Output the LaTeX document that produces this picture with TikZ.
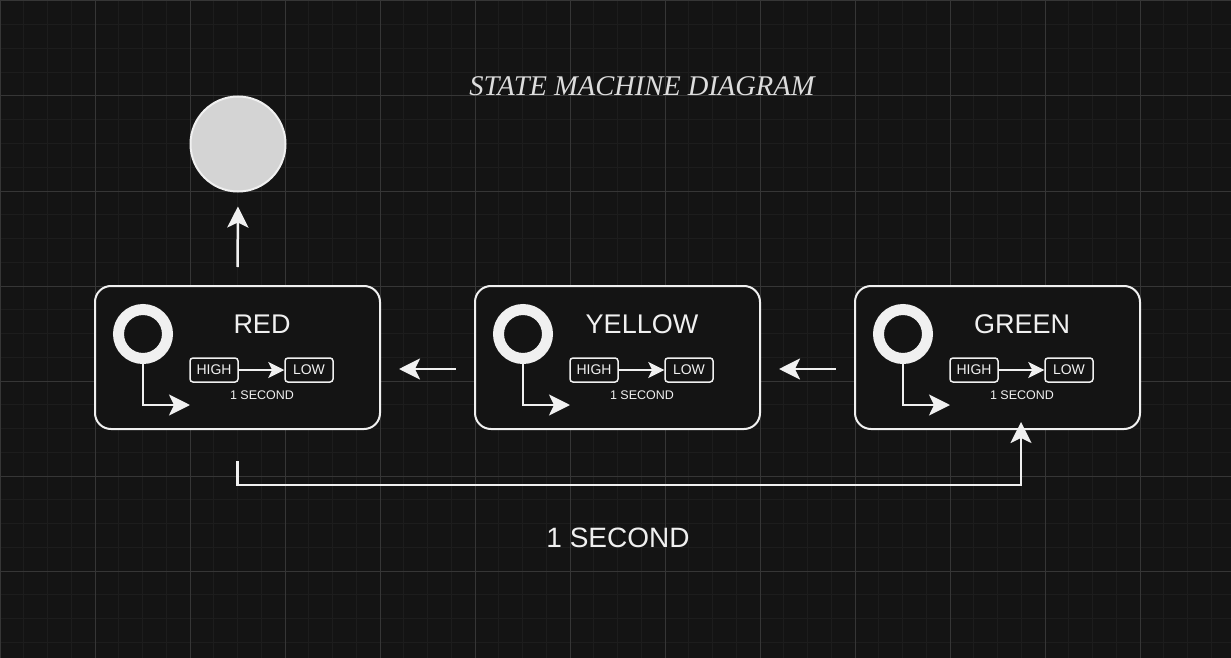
\documentclass[tikz,border=0pt]{standalone}
\usepackage{fontspec}
\setmainfont{Liberation Sans}
\newfontfamily\titlefont{Liberation Serif}
\usetikzlibrary{arrows.meta}
\definecolor{bg}{HTML}{141414}
\definecolor{minorline}{HTML}{1D1D1D}
\definecolor{majorline}{HTML}{363636}
\definecolor{fg}{HTML}{F0F0F0}
\definecolor{endfill}{HTML}{D4D4D4}

\tikzset{
  state/.style={draw=fg, fill=bg, line width=2pt, rounded corners=16pt,
    minimum width=285pt, minimum height=143pt, inner sep=0pt},
  ring/.style={circle, draw=fg, line width=11pt, minimum size=49pt, inner sep=0pt},
  tag/.style={draw=fg, line width=1.5pt, rounded corners=3pt, text=fg,
    minimum width=48pt, minimum height=24pt, inner sep=0pt,
    font=\fontsize{14}{14}\selectfont},
  statename/.style={text=fg, anchor=base, font=\fontsize{27}{27}\selectfont},
  small/.style={text=fg, anchor=base, font=\fontsize{12.5}{12.5}\selectfont},
  wire/.style={draw=fg, line width=2.5pt},
  thinwire/.style={draw=fg, line width=1.2pt,
    -{Stealth[length=16pt,width=16pt,inset=4pt]}},
}

\begin{document}
\begin{tikzpicture}[x=1pt,y=-1pt,>={Stealth[length=21pt,width=21pt,inset=5pt]}]
\useasboundingbox (0,0) rectangle (1231,658);
\fill[bg] (0,0) rectangle (1231,658);
% grid
\begin{scope}[yshift=-1pt]
\draw[minorline, line width=1pt, step=23.75pt] (0,-1) grid (1231,658);
\draw[majorline, line width=1pt, step=95pt] (0,-1) grid (1231,658);
\end{scope}

\node[text=fg!92!black, anchor=base, font=\titlefont\itshape\fontsize{28.5}{28.5}\selectfont] (title) at (642,96) {STATE MACHINE DIAGRAM};

% states
\foreach \name/\lab/\x in {red/RED/0, yellow/YELLOW/380, green/GREEN/760}{
  \node[state] (\name) at ({237.5+\x},357.5) {};
  \node[ring] (\name-ring) at ({143+\x},334) {};
  \coordinate (\name-end) at ({190+\x},405);
  \draw[wire, ->] (\name-ring.south) |- (\name-end);
  \node[statename] (\name-lab) at ({262+\x},333) {\lab};
  \node[tag] (\name-hi) at ({214+\x},370) {HIGH};
  \node[tag] (\name-lo) at ({309+\x},370) {LOW};
  \draw[thinwire] (\name-hi) -- (\name-lo);
  \node[small] (\name-sec) at ({262+\x},399) {1 SECOND};
}

\node[circle, draw=fg, line width=2pt, fill=endfill, minimum size=95pt, inner sep=0pt] (final) at (238,144) {};

\draw[wire, ->] ([xshift=-18pt, yshift=-11.5pt]yellow.west) -- ([xshift=18pt, yshift=-11.5pt]red.east);
\draw[wire, ->] ([xshift=-18pt, yshift=-11.5pt]green.west) -- ([xshift=18pt, yshift=-11.5pt]yellow.east);
\draw[wire, ->, shorten <=18pt, shorten >=14pt] (red.north) -- (final.south);
\draw[wire, ->, shorten <=31pt] (red.south) -- ++(0,55) -| ([xshift=23.5pt, yshift=8pt]green.south);

\node[text=fg, anchor=base, font=\fontsize{28}{28}\selectfont] (delay) at (618,547) {1 SECOND};
\end{tikzpicture}
\end{document}
